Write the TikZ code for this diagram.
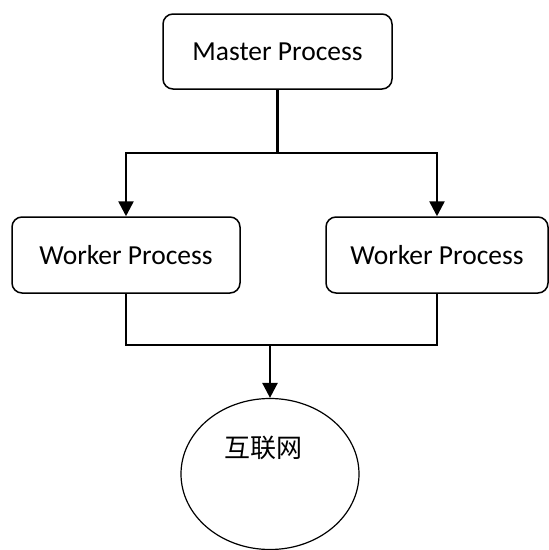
\documentclass[tikz,border=0pt]{standalone}
\usepackage{fontspec}
\setmainfont{Carlito}
\newfontfamily\cjk{Noto Sans CJK SC}
\usetikzlibrary{arrows.meta}
\usetikzlibrary{shapes.geometric}
\tikzset{proc box/.style={draw, line width=1.5pt, rounded corners=10pt, inner sep=0, font=\fontsize{27.5}{33}\selectfont}}
\tikzset{net/.style={draw, ellipse, line width=1.2pt, inner sep=0, minimum width=178pt, minimum height=151pt}}
\tikzset{link/.style={draw, line width=2.6pt, -{Triangle[length=15pt,width=15pt]}}}
\tikzset{plain link/.style={draw, line width=2.6pt}}

\begin{document}
\begin{tikzpicture}[x=1pt, y=-1pt]
  \useasboundingbox (0,0) rectangle (549,550);

  \node[proc box, minimum width=229pt, minimum height=75pt] at (277.5, 51.5) (M) {Master Process};
  \node[proc box, minimum width=228pt, minimum height=76pt] at (126, 255) (W1) {Worker Process};
  \node[proc box, minimum width=222pt, minimum height=76pt] at (437, 255) (W2) {Worker Process};
  \node[net] at (270, 474) (I) {};
  \node[font=\cjk\fontsize{26}{30}\selectfont] at (263, 448) (Itext) {互联网};

  \coordinate (split) at (277.5, 153);
  \coordinate (join) at (270, 345);

    \draw[plain link] (M) -- (split);
    \draw[link] (split) -| (W1);
    \draw[link] (split) -| (W2);

    \draw[plain link] (W1) |- (join);
    \draw[plain link] (W2) |- (join);
    \draw[link] (join) -- (I);
\end{tikzpicture}
\end{document}
